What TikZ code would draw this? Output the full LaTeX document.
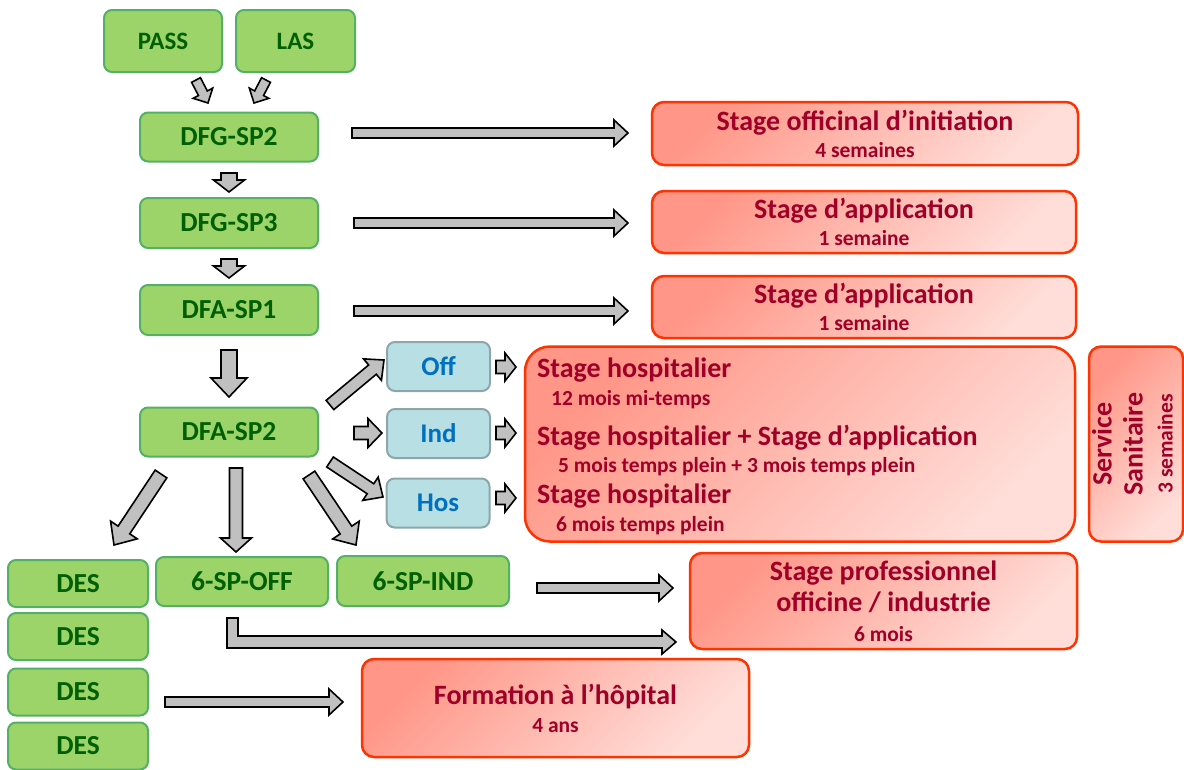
\documentclass[tikz,border=0pt]{standalone}
\usepackage{fontspec}
\setmainfont{Carlito}
\usepackage{tikz}
\usetikzlibrary{calc}
\definecolor{gfill}{RGB}{157,212,106}
\definecolor{gline}{RGB}{84,176,100}
\definecolor{gtext}{RGB}{0,96,0}
\definecolor{bfill}{RGB}{184,223,228}
\definecolor{bline}{RGB}{140,166,170}
\definecolor{btext}{RGB}{0,112,192}
\definecolor{rline}{RGB}{255,51,0}
\definecolor{rdark}{RGB}{255,150,135}
\definecolor{rlight}{RGB}{255,222,217}
\definecolor{rtext}{RGB}{160,0,40}
\definecolor{afill}{RGB}{192,192,192}
\newcommand\semfont{\fontsize{21.5}{28}\selectfont}
\tikzset{
    greenbox/.style={draw=gline, line width=2pt, fill=gfill, rounded corners=8pt, text=gtext,
        font=\bfseries\fontsize{27.5}{30}\selectfont, inner sep=0pt},
    bluebox/.style={draw=bline, line width=2pt, fill=bfill, rounded corners=8pt, text=btext,
        font=\bfseries\fontsize{27}{30}\selectfont, inner sep=0pt, minimum width=103pt, minimum height=49pt},
    redbox/.style={draw=rline, line width=2.5pt, top color=rdark, bottom color=rlight, shading angle=45,
        rounded corners=12pt, text=rtext, font=\bfseries\fontsize{28}{30}\selectfont, align=center, inner sep=0pt},
    redtext/.style={text=rtext, font=\bfseries\fontsize{28}{30}\selectfont, anchor=west, inner sep=0pt},
    blockarrow/.style={draw=black, line width=1.6pt, fill=afill, line join=miter},
}
% block arrow: shaft width, head width, head length, tail, tip
\newcommand\blockarr[5]{%
    \path let \p1=(#4), \p2=(#5) in \pgfextra{%
        \pgfmathsetmacro\arrang{atan2((\y2)-(\y1),(\x2)-(\x1))}%
        \pgfmathsetmacro\arrlen{veclen((\x2)-(\x1),(\y2)-(\y1))}%
        \xdef\arrang{\arrang}\xdef\arrlen{\arrlen}};
    \draw[blockarrow, shift={(#4)}, rotate=\arrang]
        (0pt,-#1pt/2) -- (\arrlen pt-#3pt,-#1pt/2) -- (\arrlen pt-#3pt,-#2pt/2) -- (\arrlen pt,0pt)
        -- (\arrlen pt-#3pt,#2pt/2) -- (\arrlen pt-#3pt,#1pt/2) -- (0pt,#1pt/2) -- cycle;
}

\begin{document}
\begin{tikzpicture}[x=1pt,y=-1pt]
    \useasboundingbox (0,0) rectangle (1184,769);

    % study years
    \node[greenbox, minimum width=118pt, minimum height=62pt, font=\bfseries\fontsize{25}{30}\selectfont] (pass) at (163,41) {PASS};
    \node[greenbox, minimum width=119pt, minimum height=62pt, font=\bfseries\fontsize{25}{30}\selectfont] (las) at (295.5,41) {LAS};
    \node[greenbox, minimum width=178pt, minimum height=49pt] (dfgtwo) at (229,137) {DFG-SP2};
    \node[greenbox, minimum width=178pt, minimum height=50pt] (dfgthree) at (229,223) {DFG-SP3};
    \node[greenbox, minimum width=178pt, minimum height=50pt] (dfaone) at (229,310) {DFA-SP1};
    \node[greenbox, minimum width=178pt, minimum height=49pt] (dfatwo) at (229,432) {DFA-SP2};
    \node[greenbox, minimum width=172pt, minimum height=49pt] (spoff) at (242,581.5) {6-SP-OFF};
    \node[greenbox, minimum width=172pt, minimum height=50pt] (spind) at (423,581) {6-SP-IND};
    \node[greenbox, minimum width=140pt, minimum height=47pt] (desone) at (78,583.5) {DES};
    \node[greenbox, minimum width=140pt, minimum height=47pt] (destwo) at (78,636.5) {DES};
    \node[greenbox, minimum width=140pt, minimum height=47pt] (desthree) at (78,692) {DES};
    \node[greenbox, minimum width=140pt, minimum height=47pt] (desfour) at (78,746) {DES};

    % options
    \node[bluebox] (off) at (438.5,366.5) {Off};
    \node[bluebox] (ind) at (438.5,433.5) {Ind};
    \node[bluebox] (hos) at (438,503) {Hos};

    % stages
    \node[redbox, minimum width=426pt, minimum height=63pt] (initiation) at (865,133.5)
        {Stage officinal d’initiation\\[-3pt]{\semfont 4 semaines}};
    \node[redbox, minimum width=424pt, minimum height=62pt] (appone) at (864,222)
        {Stage d’application\\[-3pt]{\semfont 1 semaine}};
    \node[redbox, minimum width=424pt, minimum height=62pt] (apptwo) at (864,307)
        {Stage d’application\\[-3pt]{\semfont 1 semaine}};
    \node[redbox, minimum width=550pt, minimum height=195pt, rounded corners=25pt] (hospbox) at (800,444) {};
    \node[redbox, minimum width=94pt, minimum height=195pt] (service) at (1136,444)
        {\rotatebox{90}{\begin{tabular}{@{}c@{}}Service\\[1pt]Sanitaire\\[0pt]{\semfont 3 semaines}\end{tabular}}};
    \node[redbox, minimum width=387pt, minimum height=96pt] (pro) at (883.5,601)
        {Stage professionnel\\[1pt]officine / industrie\\{\semfont 6 mois}};
    \node[redbox, minimum width=387pt, minimum height=98pt] (hopital) at (555.5,708)
        {Formation à l’hôpital\\[-2pt]{\semfont 4 ans}};

    \node[redtext] (hospone) at (537,370) {Stage hospitalier};
    \node[redtext, font=\bfseries\semfont] (hosponesub) at (551,400) {12 mois mi-temps};
    \node[redtext] (hosptwo) at (537,438) {Stage hospitalier + Stage d’application};
    \node[redtext, font=\bfseries\semfont] (hosptwosub) at (558,467) {5 mois temps plein + 3 mois temps plein};
    \node[redtext] (hospthree) at (537,496) {Stage hospitalier};
    \node[redtext, font=\bfseries\semfont] (hospthreesub) at (556,526) {6 mois temps plein};

    % arrow ends
    \coordinate (passt) at (196,80);   \coordinate (passh) at (208,103);
    \coordinate (last) at (266,80);    \coordinate (lash) at (254,103);
    \coordinate (dfgtwot) at (229,173);  \coordinate (dfgtwoh) at (229,192);
    \coordinate (dfgthreet) at (229,259);\coordinate (dfgthreeh) at (229,278);
    \coordinate (dfaonet) at (229,350);  \coordinate (dfaoneh) at (229,397);
    \coordinate (initt) at (352,133);  \coordinate (inith) at (628,133);
    \coordinate (apponet) at (354,223);\coordinate (appidh) at (628,223);
    \coordinate (apptwot) at (354,311);\coordinate (apptwoh) at (628,311);
    \coordinate (offt) at (330,405);   \coordinate (offh) at (384,360);
    \coordinate (indt) at (354,433);   \coordinate (indh) at (382,433);
    \coordinate (host) at (330,462);   \coordinate (hosh) at (383,497);
    \coordinate (offbt) at (496,367);  \coordinate (offbh) at (516,367);
    \coordinate (indbt) at (496,433);  \coordinate (indbh) at (516,433);
    \coordinate (hosbt) at (496,498);  \coordinate (hosbh) at (516,498);
    \coordinate (dest) at (161,474);   \coordinate (desh) at (114,545);
    \coordinate (spofft) at (236,468); \coordinate (spoffh) at (236,552);
    \coordinate (spindt) at (309,475); \coordinate (spindh) at (356,545);
    \coordinate (prot) at (537,588);   \coordinate (proh) at (673,588);
    \coordinate (hopt) at (165,702);   \coordinate (hoph) at (343,702);

    \blockarr{10}{22}{11}{passt}{passh}
    \blockarr{10}{22}{11}{last}{lash}
    \blockarr{16}{31}{12}{dfgtwot}{dfgtwoh}
    \blockarr{16}{31}{12}{dfgthreet}{dfgthreeh}
    \blockarr{16}{36}{19}{dfaonet}{dfaoneh}
    \blockarr{10}{26}{14}{initt}{inith}
    \blockarr{10}{26}{14}{apponet}{appidh}
    \blockarr{10}{26}{14}{apptwot}{apptwoh}
    \blockarr{12}{28}{15}{offt}{offh}
    \blockarr{13}{29}{14}{indt}{indh}
    \blockarr{12}{28}{15}{host}{hosh}
    \blockarr{13}{28}{11}{offbt}{offbh}
    \blockarr{13}{28}{11}{indbt}{indbh}
    \blockarr{13}{28}{11}{hosbt}{hosbh}
    \blockarr{14}{32}{18}{dest}{desh}
    \blockarr{13}{31}{14}{spofft}{spoffh}
    \blockarr{14}{32}{18}{spindt}{spindh}
    \blockarr{10}{26}{14}{prot}{proh}
    \blockarr{10}{26}{14}{hopt}{hoph}
    \draw[blockarrow] (227,618) -- (238,618) -- (238,636) -- (662,636) -- (662,630) -- (676,642)
        -- (662,654) -- (662,648) -- (227,648) -- cycle;
\end{tikzpicture}
\end{document}
